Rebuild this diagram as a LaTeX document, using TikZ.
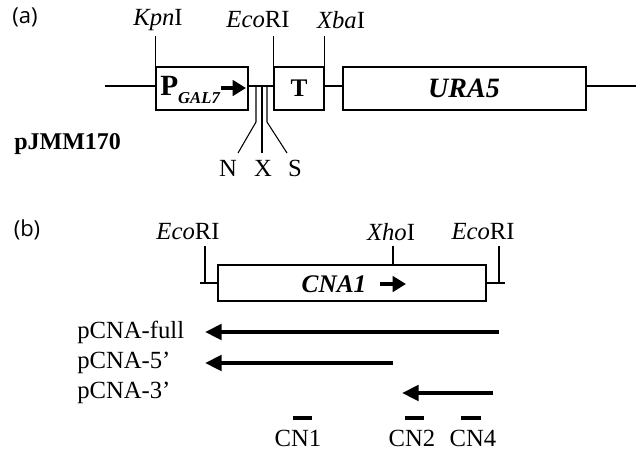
\documentclass[tikz,border=0pt]{standalone}
\usepackage{fontspec}
\setmainfont{Liberation Serif}
\newfontfamily\sansf{Open Sans}
\usetikzlibrary{arrows.meta}
\tikzset{
  box/.style={draw, line width=0.8pt, inner sep=0pt, minimum height=32.25pt},
  lbl/.style={inner sep=0pt, font=\fontsize{18.5}{20}\selectfont},
  panel/.style={inner sep=0pt, font=\sansf\fontsize{16.5}{18}\selectfont},
  bb/.style={line width=1.6pt},
  tick/.style={line width=0.8pt},
  bigarrow/.style={line width=3pt, -{Triangle[length=12.5pt,width=11.5pt]}},
  smallarrow/.style={line width=3.5pt, -{Triangle[length=10pt,width=11.5pt]}},
  probe/.style={line width=3pt}
}
\begin{document}
\begin{tikzpicture}[x=0.75pt,y=-0.75pt]
\useasboundingbox (0,0) rectangle (641,451);
% ---------- (a)
\node[panel] (pa) at (25,17) {(a)};
\node[box, minimum width=69pt] (p) at (202,88.5) {};
\node[box, minimum width=37.5pt] (t) at (299,88.5) {};
\node[box, minimum width=182.25pt] (u) at (464.5,88.5) {};
\node[inner sep=0pt, anchor=west, font=\bfseries\fontsize{22}{24}\selectfont] (ptxt) at (160,90) {P\raisebox{-6pt}{\fontsize{12.5}{13}\selectfont\itshape GAL7}};
\coordinate (pa1) at (221,88);
\coordinate (pa2) at (246,88);
\draw[smallarrow] (pa1) -- (pa2);
\node[inner sep=0pt, font=\bfseries\fontsize{19}{20}\selectfont] (ttxt) at (299,88) {T};
\node[inner sep=0pt, font=\bfseries\itshape\fontsize{21}{22}\selectfont] (utxt) at (464,88) {URA5};
\node[lbl] (kpn) at (158,20) {\textit{Kpn}I};
\node[lbl] (eco1) at (258,20) {\textit{Eco}RI};
\node[lbl] (xba) at (341,20) {\textit{Xba}I};
\draw[tick] (p.north west) -- ++(0,-30);
\draw[tick] (t.north west) -- ++(0,-30);
\draw[tick] (t.north east) -- ++(0,-30);
\coordinate (a0) at (105,86);
\coordinate (a9) at (636,86);
\draw[bb] (a0) -- (p.west |- a0);
\draw[bb] (p.east |- a0) -- (t.west |- a0);
\draw[bb] (t.east |- a0) -- (u.west |- a0);
\draw[bb] (u.east |- a0) -- (a9);
% N X S
\coordinate (n0) at (256,86);
\coordinate (x0) at (262,86);
\coordinate (s0) at (267,86);
\node[lbl] (nl) at (228,168) {N};
\node[lbl] (xl) at (263,168) {X};
\node[lbl] (sl) at (295,168) {S};
\draw[tick] (n0) -- (256,122) -- (238,153);
\draw[tick] (x0) -- (262,153);
\draw[tick] (s0) -- (267,122) -- (287,153);
\node[inner sep=0pt, anchor=west, font=\bfseries\fontsize{18}{20}\selectfont] (pj) at (14,144) {pJMM170};
% ---------- (b)
\node[panel] (pb) at (27,230) {(b)};
\node[box, minimum width=201pt, minimum height=27pt] (c) at (352,283) {};
\node[inner sep=0pt, font=\bfseries\itshape\fontsize{19}{20}\selectfont] (ctxt) at (334,284) {CNA1};
\coordinate (ca1) at (380,284);
\coordinate (ca2) at (406,284);
\draw[smallarrow] (ca1) -- (ca2);
\node[lbl] (ecoL) at (188,232) {\textit{Eco}RI};
\node[lbl] (xho) at (391,232) {\textit{Xho}I};
\node[lbl] (ecoR) at (483,232) {\textit{Eco}RI};
\coordinate (eL1) at (200,283);
\coordinate (eL2) at (205,283);
\coordinate (eL3) at (205,246);
\draw[tick] (c.west) -- (eL1);
\draw[tick] (eL2) -- (eL3);
\coordinate (eR1) at (505,283);
\coordinate (eR2) at (499,283);
\coordinate (eR3) at (499,246);
\draw[tick] (c.east) -- (eR1);
\draw[tick] (eR2) -- (eR3);
\coordinate (xh) at (393,246);
\draw[tick] (c.north -| xh) -- (xh);
% fragments
\node[lbl, anchor=west] (f1) at (77,332) {pCNA-full};
\node[lbl, anchor=west] (f2) at (77,363) {pCNA-5’};
\node[lbl, anchor=west] (f3) at (77,393) {pCNA-3’};
\coordinate (f1s) at (499,332);
\coordinate (f1e) at (205,332);
\coordinate (f2s) at (393,363);
\coordinate (f2e) at (205,363);
\coordinate (f3s) at (493,393);
\coordinate (f3e) at (402,393);
\draw[bigarrow] (f1s) -- (f1e);
\draw[bigarrow] (f2s) -- (f2e);
\draw[bigarrow] (f3s) -- (f3e);
% probes
\coordinate (cn1a) at (293,418);
\coordinate (cn1b) at (312,418);
\coordinate (cn2a) at (405,418);
\coordinate (cn2b) at (424,418);
\coordinate (cn4a) at (461,418);
\coordinate (cn4b) at (481,418);
\draw[probe] (cn1a) -- (cn1b);
\draw[probe] (cn2a) -- (cn2b);
\draw[probe] (cn4a) -- (cn4b);
\node[lbl] (cn1) at (298,438) {CN1};
\node[lbl] (cn2) at (412,438) {CN2};
\node[lbl] (cn4) at (473,438) {CN4};
\end{tikzpicture}
\end{document}
